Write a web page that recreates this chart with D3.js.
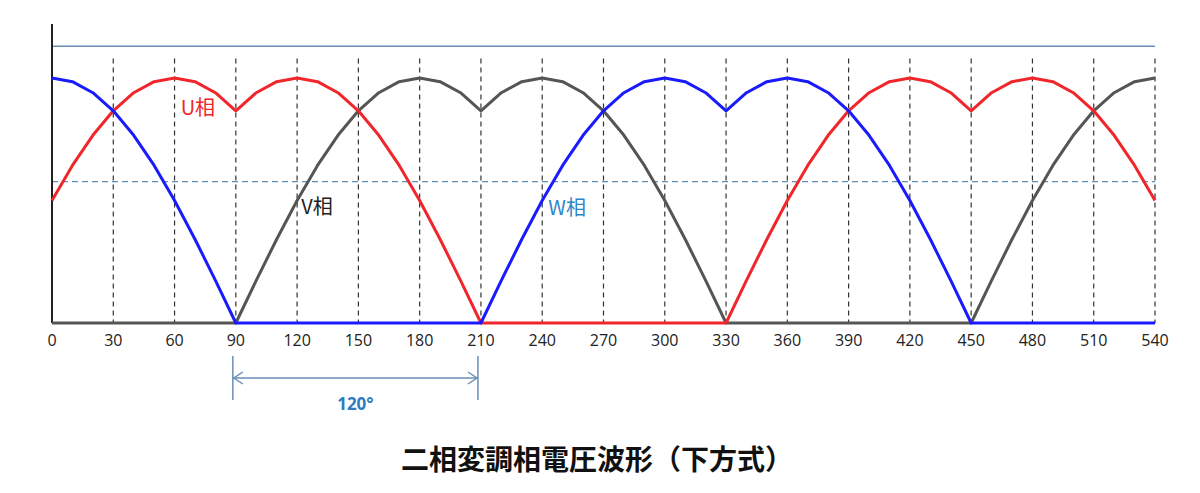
<!DOCTYPE html>
<html>
<head>
<meta charset="utf-8">
<script src="https://cdn.jsdelivr.net/npm/d3@7"></script>
<style>
  body { margin: 0; background: #fff; }
</style>
</head>
<body>
<div id="chart"></div>
<script>
// Phase angle in degrees, every 10 deg (0..540)
const angles = d3.range(0, 541, 10);
const tickLabels = [0, 30, 60, 90, 120, 150, 180, 210, 240, 270, 300, 330, 360, 390, 420, 450, 480, 510, 540];

// Phase voltages, normalised to the peak
const uPhase = [0.5, 0.643, 0.766, 0.866, 0.94, 0.985, 1, 0.985, 0.94, 0.866,
  0.94, 0.985, 1, 0.985, 0.94, 0.866, 0.766, 0.643, 0.5, 0.342,
  0.174, 0, 0, 0, 0, 0, 0, 0, 0, 0, 0, 0, 0, 0,
  0.174, 0.342, 0.5,
  0.643, 0.766, 0.866, 0.94, 0.985, 1, 0.985, 0.94, 0.866,
  0.94, 0.985, 1, 0.985, 0.94, 0.866, 0.766, 0.643, 0.5];
const vPhase = [0, 0, 0, 0, 0, 0, 0, 0, 0, 0,
  0.174, 0.342, 0.5,
  0.643, 0.766, 0.866, 0.94, 0.985, 1, 0.985, 0.94, 0.866,
  0.94, 0.985, 1, 0.985, 0.94, 0.866, 0.766, 0.643, 0.5,
  0.342, 0.174, 0,
  0, 0, 0, 0, 0, 0, 0, 0, 0, 0, 0, 0,
  0.174, 0.342, 0.5,
  0.643, 0.766, 0.866, 0.94, 0.985, 1];
const wPhase = [1, 0.985, 0.94, 0.866, 0.766, 0.643, 0.5, 0.342, 0.174, 0,
  0, 0, 0, 0, 0, 0, 0, 0, 0, 0, 0, 0,
  0.174, 0.342, 0.5,
  0.643, 0.766, 0.866, 0.94, 0.985, 1, 0.985, 0.94, 0.866,
  0.94, 0.985, 1, 0.985, 0.94, 0.866, 0.766, 0.643, 0.5,
  0.342, 0.174, 0,
  0, 0, 0, 0, 0, 0, 0, 0, 0];

const width = 1200, height = 493;
const svg = d3.select('#chart').append('svg')
    .attr('width', width)
    .attr('height', height);

const x = d3.scaleLinear().domain([0, 540]).range([52, 1155]);
const y = d3.scaleLinear().domain([0, 1]).range([323, 78]);

// Top reference line and mid dashed line
svg.append('line')
    .attr('x1', x(0)).attr('x2', x(540))
    .attr('y1', y(1.13)).attr('y2', y(1.13))
    .attr('stroke', '#6b8db5').attr('stroke-width', 1.5);
svg.append('line')
    .attr('x1', x(0)).attr('x2', x(540))
    .attr('y1', y(0.577)).attr('y2', y(0.577))
    .attr('stroke', '#5f8fb3').attr('stroke-width', 1.3)
    .attr('stroke-dasharray', '6,4');

// Vertical dashed grid
svg.append('g')
    .selectAll('line')
    .data(tickLabels.filter(d => d > 0))
    .join('line')
    .attr('x1', d => x(d)).attr('x2', d => x(d))
    .attr('y1', y(1.08)).attr('y2', y(0))
    .attr('stroke', '#333').attr('stroke-width', 1.2)
    .attr('stroke-dasharray', '5,4');

// Y axis line
svg.append('line')
    .attr('x1', x(0)).attr('x2', x(0))
    .attr('y1', 24).attr('y2', y(0))
    .attr('stroke', '#222').attr('stroke-width', 2);

// Tick labels
svg.append('g')
    .selectAll('text')
    .data(tickLabels)
    .join('text')
    .attr('x', d => x(d))
    .attr('y', 346)
    .attr('text-anchor', 'middle')
    .attr('font-family', 'Open Sans, Liberation Sans, sans-serif')
    .attr('font-size', '16px')
    .attr('fill', '#222')
    .text(d => d);

// Waveforms
const line = d3.line()
    .x((d, i) => x(angles[i]))
    .y(d => y(d))
    .curve(d3.curveLinear);

const series = [
    { values: vPhase, color: '#555' },
    { values: uPhase, color: '#f0262a' },
    { values: wPhase, color: '#1a1aff' }
];
svg.append('g')
    .selectAll('path')
    .data(series)
    .join('path')
    .attr('d', d => line(d.values))
    .attr('fill', 'none')
    .attr('stroke', d => d.color)
    .attr('stroke-width', 3)
    .attr('stroke-linejoin', 'round');

// Phase labels
const labels = [
    { text: 'U相', at: 63, v: 0.85, color: '#f0262a' },
    { text: 'V相', at: 122, v: 0.445, color: '#222' },
    { text: 'W相', at: 243, v: 0.44, color: '#2e86c8' }
];
svg.append('g')
    .selectAll('text')
    .data(labels)
    .join('text')
    .attr('x', d => x(d.at))
    .attr('y', d => y(d.v))
    .attr('font-family', 'Noto Sans CJK JP, sans-serif')
    .attr('font-size', '20px')
    .attr('fill', d => d.color)
    .text(d => d.text);

// 120 degree span annotation
const ann = svg.append('g').attr('stroke', '#6b8db5').attr('stroke-width', 1.5).attr('fill', 'none');
[90, 210].forEach(d => {
    ann.append('line').attr('x1', x(d) - 3).attr('x2', x(d) - 3).attr('y1', 356).attr('y2', 400);
});
ann.append('line').attr('x1', x(90) - 3).attr('x2', x(210) - 3).attr('y1', 378).attr('y2', 378);
ann.append('path').attr('d', `M${x(90) + 7},372 L${x(90) - 2},378 L${x(90) + 7},384`);
ann.append('path').attr('d', `M${x(210) - 13},372 L${x(210) - 4},378 L${x(210) - 13},384`);
svg.append('text')
    .attr('x', x(150) - 3)
    .attr('y', 410)
    .attr('text-anchor', 'middle')
    .attr('font-family', 'Open Sans, sans-serif')
    .attr('font-weight', 'bold')
    .attr('font-size', '17px')
    .attr('fill', '#2e7bc0')
    .text('120°');

// Title
svg.append('text')
    .attr('x', 597)
    .attr('y', 470)
    .attr('text-anchor', 'middle')
    .attr('font-family', 'Noto Sans CJK JP, sans-serif')
    .attr('font-weight', 'bold')
    .attr('font-size', '28px')
    .attr('fill', '#111')
    .text('二相変調相電圧波形（下方式）');
</script>
</body>
</html>
